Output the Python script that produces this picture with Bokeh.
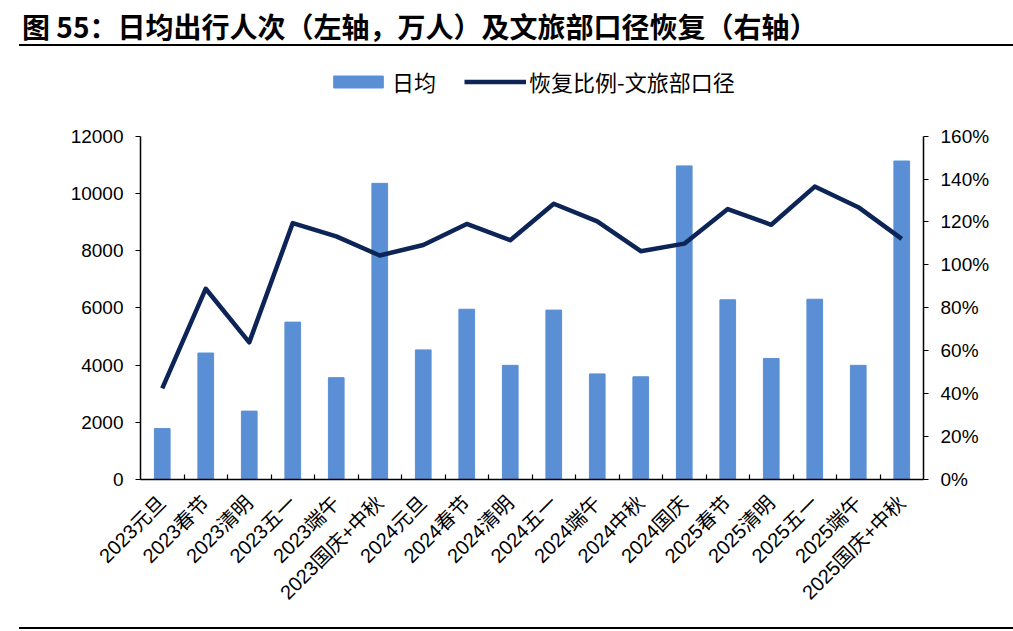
import math
from bokeh.plotting import figure
from bokeh.models import (Range1d, LinearAxis, FixedTicker, Legend, LegendItem,
                          PrintfTickFormatter, ColumnDataSource, Div)
from bokeh.layouts import column
from bokeh.embed import file_html
from bokeh.resources import INLINE

# ---------------- data ----------------
categories = ["2023元旦", "2023春节", "2023清明", "2023五一", "2023端午", "2023国庆+中秋",
              "2024元旦", "2024春节", "2024清明", "2024五一", "2024端午", "2024中秋",
              "2024国庆", "2025春节", "2025清明", "2025五一", "2025端午", "2025国庆+中秋"]
daily = [1780, 4420, 2390, 5500, 3560, 10350, 4530, 5950, 3990,
         5920, 3690, 3590, 10960, 6280, 4230, 6300, 3990, 11130]
recovery = [42.5, 88.9, 63.9, 119.5, 113.3, 104.4, 109.3, 119.1, 111.5,
            128.5, 120.3, 106.4, 109.9, 126.0, 118.7, 136.5, 126.9, 112.1]
left_ticks = [0, 2000, 4000, 6000, 8000, 10000, 12000]
right_ticks = [0, 20, 40, 60, 80, 100, 120, 140, 160]
title_text = "图 55：日均出行人次（左轴，万人）及文旅部口径恢复（右轴）"
bar_label = "日均"
line_label = "恢复比例-文旅部口径"

BAR_COLOR = "#5A8FD5"
LINE_COLOR = "#0D2456"
CJK = "Noto Sans CJK SC"
TICK_FONT = "Liberation Sans, Noto Sans CJK SC"
W = 1013

# layout (pixels inside the main figure)
TITLE_H = 46
FIG_H = 568
FRAME_TOP = 13          # frame top (legend lives in the upper part of the frame)
AXIS_TOP = 90           # where the 12000 / 160% ends sit
FRAME_BOTTOM = 435
frame_h = FRAME_BOTTOM - FRAME_TOP
axis_h = FRAME_BOTTOM - AXIS_TOP
left_max = left_ticks[-1]
right_max = right_ticks[-1]
y_top = left_max * frame_h / axis_h
y2_top = right_max * frame_h / axis_h

# ---------------- title (HTML) ----------------
title_div = Div(
    text=title_text, width=W, height=TITLE_H, margin=(0, 0, 0, 0),
    styles={"margin-left": "19px", "width": "994px",
            "padding-top": "8px", "padding-left": "3px",
            "border-bottom": "2.5px solid #000", "line-height": "36px",
            "font-family": CJK, "font-size": "28px", "font-weight": "bold",
            "color": "#000", "white-space": "nowrap"})

# ---------------- main chart ----------------
idx = list(range(len(categories)))
src = ColumnDataSource(dict(x=idx, daily=daily, recovery=recovery))

p = figure(width=W, height=FIG_H, x_range=Range1d(-0.5, len(categories) - 0.5),
           y_range=Range1d(0, y_top), output_backend="svg", toolbar_location=None,
           min_border_left=140, min_border_right=90, min_border_top=FRAME_TOP,
           min_border_bottom=FIG_H - FRAME_BOTTOM,
           x_axis_location=None, y_axis_location=None)
p.extra_y_ranges = {"pct": Range1d(0, y2_top)}
p.grid.visible = False
p.outline_line_color = None

bars = p.vbar(x="x", top="daily", width=0.36, color=BAR_COLOR, source=src)
ln = p.line(x="x", y="recovery", y_range_name="pct", line_width=4.5, line_color=LINE_COLOR,
            line_join="round", source=src)

# x axis
xaxis = LinearAxis(ticker=FixedTicker(ticks=idx, minor_ticks=[i + 0.5 for i in idx[:-1]]))
xaxis.major_label_overrides = {i: c for i, c in enumerate(categories)}
xaxis.major_label_orientation = math.pi / 4
xaxis.major_tick_line_color = None
xaxis.major_tick_in = 0
xaxis.major_tick_out = 0
xaxis.minor_tick_in = 5
xaxis.minor_tick_out = 0
xaxis.minor_tick_line_color = "black"
xaxis.major_label_standoff = 20
p.add_layout(xaxis, "below")

# left axis
yaxis = LinearAxis(ticker=FixedTicker(ticks=left_ticks), bounds=(0, left_max))
yaxis.minor_tick_line_color = None
yaxis.major_tick_in = 0
yaxis.major_tick_out = 5
yaxis.major_label_standoff = 12
p.add_layout(yaxis, "left")

# right axis
raxis = LinearAxis(y_range_name="pct", ticker=FixedTicker(ticks=right_ticks),
                   formatter=PrintfTickFormatter(format="%d%%"), bounds=(0, right_max))
raxis.minor_tick_line_color = None
raxis.major_tick_in = 0
raxis.major_tick_out = 5
raxis.major_label_standoff = 12
p.add_layout(raxis, "right")

for ax in (xaxis, yaxis, raxis):
    ax.axis_line_color = "black"
    ax.axis_line_width = 1.5
    ax.major_tick_line_width = 1.2
    ax.minor_tick_line_width = 1.2
    ax.major_label_text_font = TICK_FONT
    ax.major_label_text_font_size = "19px"
    ax.major_label_text_color = "black"
xaxis.major_label_text_font_size = "20px"

legend = Legend(items=[LegendItem(label=bar_label, renderers=[bars]),
                       LegendItem(label=line_label, renderers=[ln])],
                orientation="horizontal", location=(187, 382))
legend.glyph_width = 62
legend.glyph_height = 15
legend.label_standoff = 3
legend.spacing = 28
legend.padding = 0
legend.margin = 0
legend.border_line_color = None
legend.background_fill_alpha = 0
legend.label_text_font = CJK
legend.label_text_font_size = "22px"
legend.label_text_color = "black"
p.add_layout(legend, "center")

# ---------------- bottom rule (HTML) ----------------
bottom_div = Div(text="", width=W, height=15, margin=(0, 0, 0, 0),
                 styles={"margin-left": "19px", "width": "994px",
                         "border-bottom": "2.5px solid #000"})

layout = column(title_div, p, bottom_div, spacing=0)
open("out.html", "w").write(file_html(layout, INLINE))
